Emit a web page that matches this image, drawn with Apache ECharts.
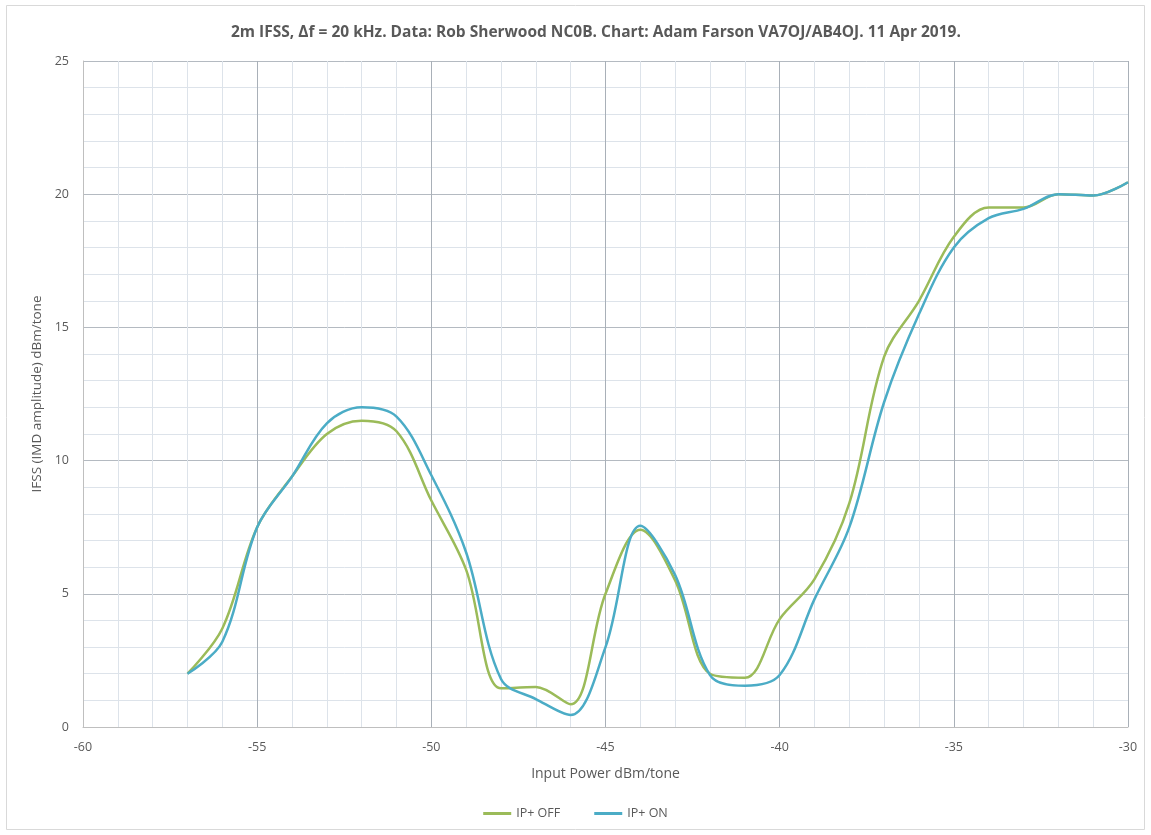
<!DOCTYPE html>
<html>
<head>
<meta charset="utf-8">
<script src="https://cdn.jsdelivr.net/npm/echarts@6/dist/echarts.min.js"></script>
<style>html,body{margin:0;padding:0;background:#fff;}#c{width:1151px;height:835px;}</style>
</head>
<body>
<div id="c"></div>
<script>
var inputPower = [-57,-56,-55,-54,-53,-52,-51,-50,-49,-48,-47,-46,-45,-44,-43,-42,-41,-40,-39,-38,-37,-36,-35,-34,-33,-32,-31,-30];
var ipOff = [2.0,3.7,7.5,9.4,11.0,11.5,11.1,8.5,5.9,1.45,1.5,0.85,5.0,7.4,5.5,2.0,1.85,4.05,5.55,8.4,13.9,16.0,18.4,19.5,19.5,20.0,19.95,20.45];
var ipOn = [2.0,3.2,7.5,9.4,11.4,12.0,11.65,9.45,6.55,1.8,1.05,0.45,3.0,7.55,5.7,1.95,1.55,1.95,4.8,7.5,12.2,15.5,18.0,19.1,19.45,20.0,19.95,20.45];
var seriesNames = ['IP+ OFF','IP+ ON'];
var seriesColors = ['#9bbb59','#4bacc6'];

function pairs(xs, ys){ return xs.map(function(x,i){ return [x, ys[i]]; }); }

var chart = echarts.init(document.getElementById('c'), null, {renderer:'canvas'});
var font = "'Open Sans', 'Noto Sans', sans-serif";
chart.setOption({
  backgroundColor:'#fff',
  animation:false,
  title:{
    text:'2m IFSS, \u0394f = 20 kHz. Data: Rob Sherwood NC0B. Chart: Adam Farson VA7OJ/AB4OJ. 11 Apr 2019.',
    left:226, top:20,
    textStyle:{color:'#595959', fontSize:15.5, fontWeight:'bold', fontFamily:font}
  },
  graphic:[{type:'rect', shape:{x:6.5,y:5.5,width:1138,height:824}, style:{fill:'none', stroke:'#d9d9d9', lineWidth:1}, silent:true}],
  legend:{
    bottom:10, left:'center', itemWidth:28, itemHeight:3, itemGap:34, icon:'rect',
    textStyle:{color:'#595959', fontSize:12.5, fontFamily:font},
    data:seriesNames
  },
  grid:{left:83, right:23, top:61, bottom:108, containLabel:false},
  xAxis:{
    type:'value', min:-60, max:-30, interval:5,
    name:'Input Power dBm/tone', nameLocation:'middle', nameGap:40,
    nameTextStyle:{color:'#595959', fontSize:14, fontFamily:font},
    axisLine:{show:true, lineStyle:{color:'#bfbfbf'}},
    axisTick:{show:false},
    axisLabel:{color:'#595959', fontSize:12.5, fontFamily:font, margin:14},
    splitLine:{show:true, lineStyle:{color:'#a9b0b8', width:1}},
    minorTick:{show:false, splitNumber:5},
    minorSplitLine:{show:true, lineStyle:{color:'#dde3ea', width:1}}
  },
  yAxis:{
    type:'value', min:0, max:25, interval:5,
    name:'IFSS (IMD amplitude) dBm/tone', nameLocation:'middle', nameGap:35,
    nameTextStyle:{color:'#595959', fontSize:13.5, fontFamily:font},
    axisLine:{show:true, lineStyle:{color:'#bfbfbf'}},
    axisTick:{show:false},
    axisLabel:{color:'#595959', fontSize:12.5, fontFamily:font, margin:14},
    splitLine:{show:true, lineStyle:{color:'#b4bac1', width:1}},
    minorTick:{show:false, splitNumber:5},
    minorSplitLine:{show:true, lineStyle:{color:'#dde3ea', width:1}}
  },
  series:[
    {name:seriesNames[0], type:'line', data:pairs(inputPower, ipOff), smooth:0.35, showSymbol:false,
     lineStyle:{color:seriesColors[0], width:2.5}, itemStyle:{color:seriesColors[0]}, z:3},
    {name:seriesNames[1], type:'line', data:pairs(inputPower, ipOn), smooth:0.35, showSymbol:false,
     lineStyle:{color:seriesColors[1], width:2.5}, itemStyle:{color:seriesColors[1]}, z:4}
  ]
});
</script>
</body>
</html>
